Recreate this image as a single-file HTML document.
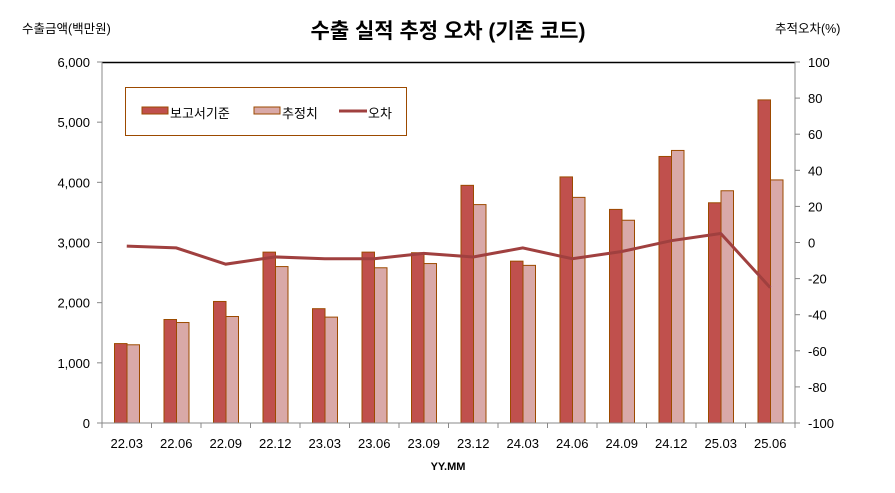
<!DOCTYPE html>
<html><head><meta charset="utf-8"><style>
body{margin:0;background:#fff;}
text{font-family:"Liberation Sans","Noto Sans CJK KR",sans-serif;}
</style></head><body>
<svg width="895" height="488" xmlns="http://www.w3.org/2000/svg">
<rect width="895" height="488" fill="#fff"/>
<text x="448" y="38" text-anchor="middle" font-size="21" font-weight="bold" fill="#000">수출 실적 추정 오차 (기존 코드)</text>
<text x="22" y="33" font-size="12.5" fill="#000">수출금액(백만원)</text>
<text x="775" y="33" font-size="12.5" fill="#000">추적오차(%)</text>
<g id="bars"></g>
<line x1="102" y1="62.5" x2="795" y2="62.5" stroke="#000" stroke-width="1.5"/>
<line x1="102" y1="62" x2="102" y2="423" stroke="#888"/>
<line x1="795" y1="62" x2="795" y2="423" stroke="#888"/>
<line x1="97" y1="423" x2="800" y2="423" stroke="#888"/>
<g id="ticks" stroke="#888"></g>
<g id="labels" font-size="13" fill="#000"></g>
<polyline id="err" fill="none" stroke="#A0403F" stroke-width="3"/>
<text x="448" y="470" text-anchor="middle" font-size="11" font-weight="bold">YY.MM</text>
<rect x="125.5" y="87.5" width="281" height="48" fill="#fff" stroke="#9C4A00"/>
<rect x="142" y="107" width="26" height="7" fill="#C0504D" stroke="#9C4A00"/>
<text x="170" y="118" font-size="13">보고서기준</text>
<rect x="254" y="107" width="26" height="7" fill="#D9A9A8" stroke="#9C4A00"/>
<text x="282" y="118" font-size="13">추정치</text>
<line x1="339" y1="111" x2="367" y2="111" stroke="#A0403F" stroke-width="3"/>
<text x="368" y="118" font-size="13">오차</text>
</svg>
<script>
const L=102,R=795,B=423,T=62,n=14,w=(R-L)/n;
const cats=["22.03","22.06","22.09","22.12","23.03","23.06","23.09","23.12","24.03","24.06","24.09","24.12","25.03","25.06"];
const d=[1320,1720,2020,2840,1900,2840,2830,3950,2690,4090,3550,4430,3660,5370];
const e=[1300,1670,1770,2600,1760,2580,2650,3630,2620,3750,3370,4530,3860,4040];
const r=[-2,-3,-12,-8,-9,-9,-6,-8,-3,-9,-5,1,5,-25];
const ns="http://www.w3.org/2000/svg";
function el(p,t,a,txt){const x=document.createElementNS(ns,t);for(const k in a)x.setAttribute(k,a[k]);if(txt!=null)x.textContent=txt;p.appendChild(x);return x;}
const bars=document.getElementById('bars'),ticks=document.getElementById('ticks'),lab=document.getElementById('labels');
const ys=v=>B-v/6000*(B-T), yr=v=>B-(v+100)/200*(B-T);
let pts=[];
for(let i=0;i<n;i++){const x0=L+i*w;
el(bars,'rect',{x:x0+12.5,y:ys(d[i]),width:12.5,height:B-ys(d[i]),fill:'#C0504D',stroke:'#9C4A00','stroke-width':1});
el(bars,'rect',{x:x0+25,y:ys(e[i]),width:12.5,height:B-ys(e[i]),fill:'#D9A9A8',stroke:'#9C4A00','stroke-width':1});
el(lab,'text',{x:x0+w/2,y:448,'text-anchor':'middle'},cats[i]);
pts.push((x0+w/2)+','+yr(r[i]));}
for(let i=0;i<=n;i++)el(ticks,'line',{x1:L+i*w,y1:B,x2:L+i*w,y2:B+5});
for(let k=0;k<=6;k++){const y=ys(k*1000);el(ticks,'line',{x1:97,y1:y,x2:102,y2:y});
el(lab,'text',{x:90,y:y+5,'text-anchor':'end'},k==0?'0':(k+',000'));}
for(let v=-100;v<=100;v+=20){const y=yr(v);el(ticks,'line',{x1:795,y1:y,x2:800,y2:y});
el(lab,'text',{x:808,y:y+5},String(v));}
document.getElementById('err').setAttribute('points',pts.join(' '));
</script>
</body></html>
